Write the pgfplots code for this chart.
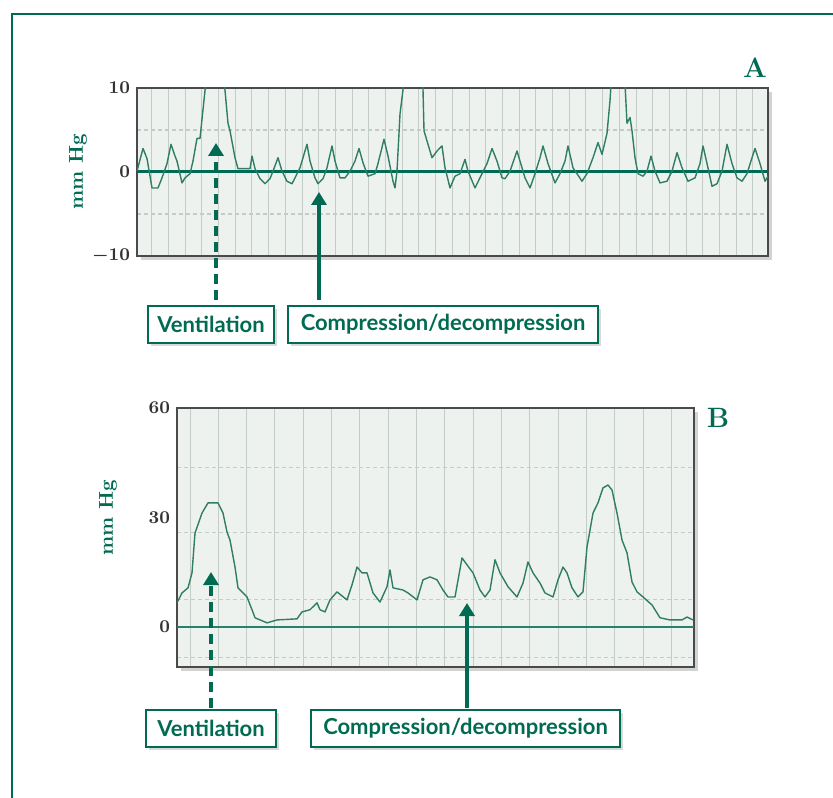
\documentclass[border=0pt]{standalone}
\usepackage{fontspec}
\newfontfamily\boxfont{Lato}
\usepackage{pgfplots}
\pgfplotsset{compat=1.18}
\usetikzlibrary{arrows.meta, shadows}

\definecolor{hg}{HTML}{006B52}
\definecolor{tracec}{HTML}{2F7D66}
\definecolor{paper}{HTML}{EEF2EF}
\definecolor{gridc}{HTML}{C3CCC7}
\definecolor{framec}{HTML}{4A4A4A}

\pgfplotsset{
  strip/.style={
    scale only axis, anchor=south west,
    axis line style={framec, line width=0.7pt},
    axis background/.style={fill=paper,
      drop shadow={shadow xshift=2pt, shadow yshift=-2pt, opacity=0.35}},
    tick style={draw=none}, minor tick style={draw=none},
    xticklabel=\empty,
    xmajorgrids, yminorgrids,
    major grid style={gridc, line width=0.5pt},
    minor grid style={gridc, line width=0.6pt, dash pattern=on 2pt off 1.5pt},
    tick label style={font=\boldmath\fontsize{9}{10}\selectfont, text=black!80},
    ylabel={mm Hg},
    ylabel style={font=\bfseries\fontsize{10}{12}\selectfont, text=hg, anchor=center},
  },
  trace/.style={tracec, line width=0.7pt, line join=round},
}

\begin{document}
\begin{tikzpicture}[x=1pt,y=1pt]
\useasboundingbox (0,0) rectangle (416.5,398.5);
\draw[hg, line width=1pt] (6,-2) -- (6,391.5) -- (418,391.5);

% ---------- panel A ----------
\begin{axis}[strip,
  at={(68.5pt,270.5pt)}, width=315.5pt, height=84pt,
  xmin=137, xmax=768, ymin=-10, ymax=10,
  xtick={151.7,168.4,...,768},
  ytick={-10,0,10}, minor ytick={-5,5},
  ylabel style={at={(axis description cs:-0.0935,0.5)}},
]
\addplot[hg, line width=1.5pt] coordinates {(137,0) (768,0)};
\addplot[trace] coordinates {
(137,0.1)(143,2.8)(147,1.6)(152,-1.9)(158,-1.9)(162,-0.7)(167,1.0)(171,3.3)
(175,1.9)(177,1.3)(182,-1.3)(185,-0.7)(190,-0.2)(193,1.3)(197,4.0)(200,4.0)
(205,9.7)(209,14)(216,18)(222,14)(225,9.7)(228,5.8)(230,4.9)(235,1.7)
(238,0.4)(250,0.4)(252,1.9)(255,0.4)(260,-0.8)(265,-1.4)(270,-0.8)(273,0.1)
(278,1.7)(282,0.1)(287,-1.1)(292,-1.4)(295,-0.7)(300,0.5)(307,3.3)(310,1.3)
(315,-0.7)(318,-1.4)(323,-0.8)(327,0.5)(332,3.1)(335,1.3)(340,-0.7)(345,-0.7)
(350,0.1)(355,1.3)(359,2.8)(363,1.1)(368,-0.5)(375,-0.2)(378,1.0)(384,3.9)
(388,1.9)(393,-1.1)(395,-1.9)(397,0.1)(400,6.9)(403,9.8)(406,15)(413,18)
(420,14)(423,9.8)(424,4.9)(428,3.3)(432,1.7)(437,2.5)(442,3.1)(445,0.5)
(450,-1.9)(455,-0.5)(460,-0.2)(465,1.5)(468,0.1)(475,-1.9)(482,-0.2)(487,1.0)
(492,2.8)(497,1.3)(502,-0.7)(505,-0.8)(510,0.1)(517,2.5)(520,1.3)(525,-0.7)
(530,-1.9)(535,-0.2)(540,1.7)(543,3.1)(548,1.0)(555,-1.3)(560,-0.2)(565,1.3)
(568,3.1)(573,0.5)(582,-1.1)(587,-0.2)(593,1.7)(598,3.5)(602,2.1)(607,4.6)
(610,8.5)(613,14)(618,17)(623,14)(625,10.5)(627,5.8)(630,6.5)(632,4.9)
(635,1.7)(638,-0.2)(643,-0.5)(647,0.1)(651,1.9)(655,0.1)(660,-1.3)(667,-1.1)
(672,0.1)(677,2.3)(682,0.5)(688,-1.1)(695,-0.7)(700,1.0)(703,3.1)(707,1.0)
(712,-1.7)(717,-1.4)(722,0.1)(727,3.3)(732,1.0)(737,-0.7)(742,-1.1)(747,-0.2)
(752,1.7)(755,2.8)(760,1.0)(765,-1.1)(768,-0.5)};
\end{axis}

% ---------- panel B ----------
\begin{axis}[strip,
  at={(88.5pt,65pt)}, width=258.5pt, height=129.5pt,
  xmin=177, xmax=694, ymin=-11, ymax=60,
  xtick={190,218.33,...,694},
  ytick={0,30,60}, minor ytick={-8.5,7.4,25.8,43.8},
  ylabel style={at={(axis description cs:-0.1335,0.575)}},
]
\addplot[hg!85, line width=1pt] coordinates {(177,0) (694,0)};
\addplot[trace] coordinates {
(177,6.6)(182,9.3)(188,10.7)(192,14.8)(195,25.7)(202,31.2)(208,34.0)(218,34.0)
(223,31.2)(227,26.0)(230,23.8)(235,16.4)(238,10.7)(247,8.2)(252,4.7)(255,2.5)
(267,1.1)(277,1.9)(297,2.2)(302,4.1)(310,4.7)(317,6.6)(320,4.7)(325,4.1)
(330,7.4)(337,9.6)(347,7.4)(352,11.5)(357,16.4)(362,14.8)(367,14.8)(373,9.3)
(380,6.8)(387,11.0)(390,15.6)(393,10.7)(403,10.1)(408,9.3)(417,7.4)(423,12.9)
(430,13.7)(437,12.9)(443,10.1)(448,8.2)(455,8.2)(462,18.9)(467,17.0)(473,14.8)
(480,10.1)(485,8.2)(490,10.1)(495,18.4)(500,14.8)(508,11.0)(517,8.2)(523,12.0)
(528,17.8)(533,14.8)(540,12.0)(545,9.3)(553,8.2)(558,12.9)(563,16.4)(567,14.8)
(572,10.7)(578,8.2)(583,9.6)(587,21.9)(593,31.2)(598,34.0)(603,38.1)(608,38.9)
(612,37.5)(617,31.2)(622,23.8)(627,20.3)(632,12.3)(637,9.6)(643,8.2)(652,6.0)
(660,2.5)(670,1.9)(682,1.9)(687,2.7)(693,1.9)};
\end{axis}

% panel letters
\node[text=hg, font=\bfseries\fontsize{14}{16}\selectfont] at (377.5,364.5) {A};
\node[text=hg, font=\bfseries\fontsize{14}{16}\selectfont] at (359,189.5) {B};

% arrows
\tikzset{
  arr/.style={hg, line width=2pt, -{Triangle[width=7.5pt,length=6.5pt]}},
  dsh/.style={dash pattern=on 5pt off 3pt},
  box/.style={draw=hg, line width=0.7pt, fill=white, text=hg,
    drop shadow={shadow xshift=1.5pt, shadow yshift=-1.5pt, opacity=0.3},
    font=\boxfont\bfseries\fontsize{11}{13}\selectfont, inner sep=0pt,
    minimum height=18.5pt},
}
\draw[arr, dsh] (108,248.5) -- (108,327);
\draw[arr] (159.5,248.5) -- (159.5,302.5);
\draw[arr, dsh] (105.5,44.5) -- (105.5,112.5);
\draw[arr] (233.5,44.5) -- (233.5,97);

% boxes
\node[box, minimum width=63pt] at (105.5,236.25) {Ventilation};
\node[box, minimum width=155pt] at (221.5,236.25) {Compression/decompression};
\node[box, minimum width=65pt] at (105.5,34.25) {Ventilation};
\node[box, minimum width=154.5pt] at (232.75,34.25) {Compression/decompression};
\end{tikzpicture}
\end{document}
